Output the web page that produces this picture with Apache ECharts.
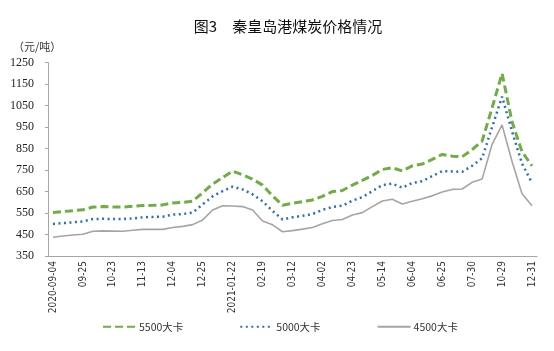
<!DOCTYPE html>
<html>
<head>
<meta charset="utf-8">
<script src="https://cdn.jsdelivr.net/npm/echarts@6/dist/echarts.min.js"></script>
<style>html,body{margin:0;padding:0;background:#fff;}#c{width:554px;height:351px;}</style>
</head>
<body>
<div id="c"></div>
<script>
var tickLabels = ['2020-09-04','09-25','10-23','11-13','12-04','12-25','2021-01-22','02-19','03-12','04-02','04-23','05-14','06-04','06-25','07-30','10-29','12-31'];
var s5500 = [553,557,561,565,578,580,578,578,582,585,586,588,597,600,605,645,685,715,745,728,708,680,630,586,595,603,611,628,650,655,680,702,725,753,761,746,770,778,800,823,815,812,845,885,1040,1200,975,835,770];
var s5000 = [499,503,507,511,522,523,522,522,525,530,532,533,543,545,552,590,628,652,673,660,637,605,560,520,530,537,545,565,578,584,608,624,652,680,687,668,690,698,722,745,744,742,770,805,950,1092,930,780,690];
var s4500 = [437,443,448,451,465,467,466,465,470,474,474,474,483,488,496,518,564,584,583,580,564,513,495,463,468,475,483,500,515,520,541,552,580,606,614,592,605,617,630,648,660,662,693,708,870,960,790,640,584];
var seriesNames = ['5500大卡','5000大卡','4500大卡'];
var categories = s5500.map(function(_, i){ return 'p' + i; });

var chart = echarts.init(document.getElementById('c'));
chart.setOption({
  animation: false,
  backgroundColor: '#fff',
  title: [
    {text: '图3　秦皇岛港煤炭价格情况', left: 283, top: 14, textAlign: 'center',
     textStyle: {fontFamily: 'Noto Sans CJK SC', fontSize: 15, fontWeight: 'normal', color: '#111'}},
    {text: '（元/吨）', left: 8, top: 36,
     textStyle: {fontFamily: 'Noto Sans CJK SC', fontSize: 11, fontWeight: 'normal', color: '#333'}}
  ],
  grid: {left: 48, right: 17, top: 62.7, bottom: 95},
  legend: {
    bottom: 14, left: 97, itemGap: 56, itemWidth: 33, itemHeight: 10,
    itemStyle: {opacity: 0},
    textStyle: {fontFamily: 'Noto Sans CJK SC', fontSize: 10.5, color: '#333', padding: [0, 0, 0, -2]},
    data: seriesNames
  },
  xAxis: {
    type: 'category', data: categories, boundaryGap: true,
    axisLine: {lineStyle: {color: '#a6a6a6', width: 1}},
    axisTick: {inside: true, length: 3, lineStyle: {color: '#a6a6a6'},
      interval: function(i){ return i % 3 === 1; }},
    axisLabel: {rotate: 90, margin: 5, fontSize: 10, color: '#333', fontFamily: 'DejaVu Sans Condensed',
      interval: function(i){ return i % 3 === 0; },
      formatter: function(v, i){ return i % 3 === 0 ? tickLabels[i / 3] : ''; }}
  },
  yAxis: {
    type: 'value', min: 350, max: 1250, interval: 100,
    splitLine: {show: false},
    axisLine: {show: true, lineStyle: {color: '#a6a6a6'}},
    axisTick: {show: true, length: 3, lineStyle: {color: '#a6a6a6'}},
    axisLabel: {fontFamily: 'Liberation Serif', fontSize: 12, color: '#222', margin: 14,
      formatter: function(v){ return String(v); }}
  },
  series: [
    {name: seriesNames[0], type: 'line', data: s5500, symbol: 'none', color: '#70ad47',
     lineStyle: {color: '#70ad47', width: 3, type: [8, 4]}},
    {name: seriesNames[1], type: 'line', data: s5000, symbol: 'none', color: '#2e6fb3',
     lineStyle: {color: '#2e6fb3', width: 2.5, type: [2, 3.5]}},
    {name: seriesNames[2], type: 'line', data: s4500, symbol: 'none', color: '#a5a5a5',
     lineStyle: {color: '#a5a5a5', width: 1.6, type: 'solid'}}
  ]
});
</script>
</body>
</html>
